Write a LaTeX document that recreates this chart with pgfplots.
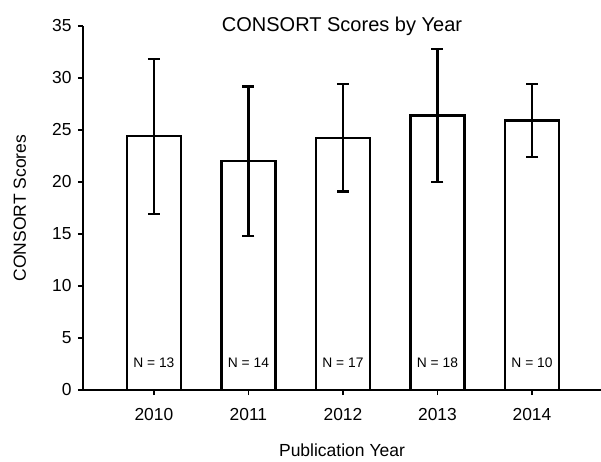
\documentclass[border=0pt]{standalone}
\usepackage{pgfplots}
\pgfplotsset{compat=1.18}
\usepackage{fontspec}
\setmainfont{Liberation Sans}
\begin{document}
\begin{tikzpicture}
\useasboundingbox (-83pt,-71pt) rectangle (518pt,390pt);
\begin{axis}[
  at={(0,0)}, anchor=south west,
  scale only axis, width=518pt, height=364pt,
  xmin=-0.75, xmax=4.73, ymin=0, ymax=35,
  axis x line=bottom, axis y line=left,
  axis line style={-, line width=2pt},
  xtick={0,1,2,3,4}, xticklabels={2010,2011,2012,2013,2014},
  ytick={0,5,10,15,20,25,30,35},
  /pgf/number format/assume math mode=true,
  tick align=outside, major tick length=5pt,
  tick style={line width=1.4pt, black},
  ticklabel style={font=\fontsize{17.4}{19}\selectfont},
  xticklabel style={yshift=-10pt},
  yticklabel style={xshift=-3pt},
  title={CONSORT Scores by Year},
  title style={font=\fontsize{20}{22}\selectfont, at={(axis description cs:0.5,1)}, anchor=base, yshift=-11pt},
  xlabel={Publication Year},
  xlabel style={font=\fontsize{17.5}{19}\selectfont, at={(axis description cs:0.5,0)}, anchor=center, yshift=-60pt},
  ylabel={CONSORT Scores},
  ylabel style={font=\fontsize{17.5}{19}\selectfont, at={(axis description cs:-0.122,0.5)}, anchor=center},
  clip=false,
]
\addplot[ybar, bar width=0.57, fill=white, draw=black, line width=2.4pt,
  error bars/.cd, y dir=both, y explicit,
  error bar style={line width=2.4pt, black},
  error mark options={rotate=90, mark size=6pt, line width=2.4pt, black}]
coordinates {
  (0,24.4) +- (0,7.45)
  (1,22.0) +- (0,7.2)
  (2,24.25) +- (0,5.15)
  (3,26.4) +- (0,6.4)
  (4,25.9) +- (0,3.5)
};
\node[font=\fontsize{13.8}{15}\selectfont] at (axis cs:0,2.6) {N = 13};
\node[font=\fontsize{13.8}{15}\selectfont] at (axis cs:1,2.6) {N = 14};
\node[font=\fontsize{13.8}{15}\selectfont] at (axis cs:2,2.6) {N = 17};
\node[font=\fontsize{13.8}{15}\selectfont] at (axis cs:3,2.6) {N = 18};
\node[font=\fontsize{13.8}{15}\selectfont] at (axis cs:4,2.6) {N = 10};
\end{axis}
\end{tikzpicture}
\end{document}
